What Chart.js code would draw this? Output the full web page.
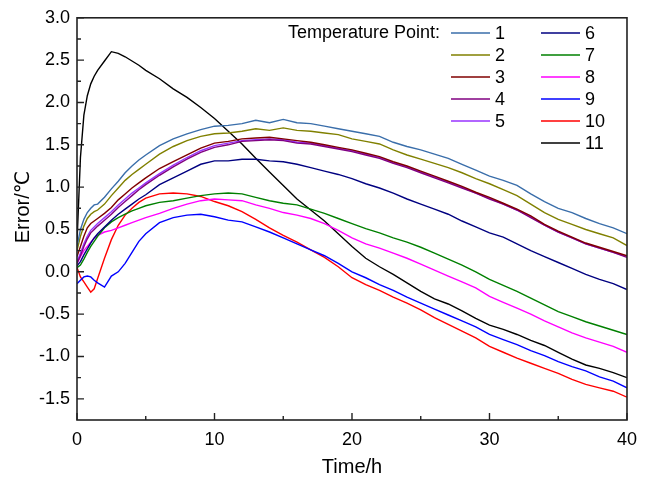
<!DOCTYPE html>
<html>
<head>
<meta charset="utf-8">
<script src="https://cdn.jsdelivr.net/npm/chart.js@4/dist/chart.umd.min.js"></script>
<style>
html,body{margin:0;padding:0;background:#fff;}
#c{display:block;}
</style>
</head>
<body>
<canvas id="c" width="646" height="480"></canvas>
<script>
// ---- data ----
const TIME = [0,0.25,0.5,0.75,1,1.25,1.5,2,2.5,3,3.5,4,4.5,5,
  6,7,8,9,10,11,12,13,14,15,16,17,18,19,20,21,22,23,24,25,26,27,28,29,30,31,32,33,34,35,36,37,38,39,40];

const P1 = [0.30,0.50,0.62,0.70,0.75,0.79,0.80,0.88,0.98,1.07,1.17,1.25,1.32,1.38,
  1.49,1.57,1.63,1.68,1.72,1.73,1.75,1.79,1.76,1.80,1.76,1.75,1.72,1.69,1.66,1.63,1.60,1.53,1.48,1.44,1.39,1.34,1.27,1.20,1.13,1.08,1.02,0.92,0.83,0.75,0.70,0.63,0.57,0.52,0.45];
const P2 = [0.25,0.42,0.54,0.63,0.68,0.71,0.73,0.80,0.90,0.99,1.08,1.15,1.21,1.27,
  1.39,1.48,1.55,1.60,1.63,1.64,1.66,1.69,1.67,1.70,1.67,1.66,1.64,1.62,1.57,1.54,1.51,1.44,1.38,1.33,1.28,1.23,1.17,1.10,1.04,0.97,0.90,0.80,0.70,0.62,0.56,0.50,0.45,0.40,0.31];
const P3 = [0.18,0.30,0.42,0.52,0.57,0.60,0.63,0.69,0.76,0.85,0.92,0.99,1.05,1.11,
  1.22,1.30,1.38,1.46,1.52,1.54,1.57,1.58,1.59,1.57,1.55,1.53,1.50,1.47,1.44,1.40,1.36,1.30,1.25,1.19,1.13,1.07,1.01,0.94,0.88,0.81,0.74,0.66,0.56,0.48,0.41,0.34,0.29,0.24,0.19];
const P4 = [0.10,0.19,0.30,0.39,0.46,0.50,0.54,0.61,0.68,0.76,0.83,0.90,0.97,1.03,
  1.14,1.24,1.33,1.41,1.47,1.50,1.54,1.55,1.56,1.55,1.52,1.51,1.48,1.45,1.42,1.38,1.34,1.28,1.23,1.17,1.11,1.05,0.99,0.93,0.86,0.80,0.73,0.64,0.55,0.47,0.40,0.33,0.28,0.23,0.17];
const P5 = [0.12,0.22,0.33,0.42,0.49,0.53,0.57,0.64,0.71,0.79,0.86,0.93,0.99,1.05,
  1.16,1.26,1.35,1.43,1.49,1.52,1.55,1.56,1.57,1.56,1.53,1.52,1.49,1.46,1.43,1.39,1.35,1.29,1.24,1.18,1.12,1.06,1.00,0.93,0.87,0.80,0.73,0.65,0.55,0.47,0.40,0.33,0.28,0.23,0.18];
const P6 = [0.07,0.12,0.20,0.27,0.34,0.40,0.45,0.53,0.61,0.68,0.74,0.80,0.86,0.91,
  1.03,1.11,1.19,1.27,1.31,1.31,1.33,1.33,1.31,1.30,1.27,1.23,1.19,1.15,1.10,1.04,0.99,0.93,0.86,0.80,0.74,0.68,0.60,0.53,0.46,0.41,0.33,0.25,0.18,0.11,0.04,-0.03,-0.09,-0.14,-0.21];
const P7 = [0.05,0.08,0.15,0.23,0.30,0.36,0.42,0.52,0.59,0.64,0.68,0.72,0.75,0.78,
  0.82,0.84,0.87,0.90,0.92,0.93,0.92,0.88,0.84,0.81,0.79,0.74,0.69,0.63,0.57,0.51,0.46,0.40,0.35,0.29,0.22,0.15,0.08,0.00,-0.09,-0.16,-0.23,-0.31,-0.39,-0.47,-0.53,-0.59,-0.64,-0.69,-0.74];
const P8 = [0.10,0.18,0.25,0.30,0.35,0.40,0.43,0.47,0.49,0.52,0.55,0.58,0.61,0.64,
  0.69,0.75,0.80,0.84,0.86,0.85,0.84,0.79,0.75,0.70,0.67,0.63,0.57,0.49,0.40,0.33,0.28,0.22,0.16,0.09,0.02,-0.05,-0.12,-0.19,-0.29,-0.36,-0.43,-0.50,-0.58,-0.65,-0.72,-0.78,-0.83,-0.88,-0.95];
const P9 = [-0.14,-0.10,-0.06,-0.05,-0.06,-0.10,-0.13,-0.18,-0.05,0.00,0.10,0.23,0.36,0.45,
  0.58,0.64,0.67,0.68,0.65,0.61,0.59,0.53,0.47,0.40,0.33,0.26,0.19,0.10,0.00,-0.07,-0.15,-0.22,-0.30,-0.37,-0.44,-0.51,-0.58,-0.65,-0.74,-0.80,-0.86,-0.93,-0.99,-1.06,-1.12,-1.17,-1.24,-1.29,-1.37];
const P10 = [0.05,-0.06,-0.12,-0.18,-0.24,-0.20,-0.08,0.16,0.38,0.55,0.67,0.75,0.82,0.87,
  0.92,0.93,0.92,0.89,0.83,0.78,0.71,0.62,0.52,0.43,0.35,0.26,0.17,0.06,-0.07,-0.15,-0.22,-0.30,-0.37,-0.45,-0.54,-0.62,-0.70,-0.78,-0.88,-0.95,-1.02,-1.08,-1.14,-1.20,-1.27,-1.33,-1.37,-1.41,-1.48];
const P11 = [0.35,1.35,1.85,2.08,2.22,2.31,2.38,2.49,2.60,2.58,2.54,2.49,2.44,2.38,
  2.28,2.16,2.06,1.94,1.81,1.66,1.51,1.34,1.18,1.02,0.86,0.73,0.60,0.45,0.30,0.16,0.06,-0.03,-0.13,-0.23,-0.32,-0.38,-0.46,-0.55,-0.63,-0.68,-0.74,-0.81,-0.87,-0.95,-1.03,-1.10,-1.14,-1.19,-1.25];

const SERIES_NAMES = ['1','2','3','4','5','6','7','8','9','10','11'];
const SERIES = [P1,P2,P3,P4,P5,P6,P7,P8,P9,P10,P11];
const COLORS = ['#3a6eaa','#808000','#800000','#800080','#9933ff','#000080','#008000','#ff00ff','#0000ff','#ff0000','#000000'];

const X_MAJOR = [0,10,20,30,40];
const X_MINOR = [5,15,25,35];
const Y_MAJOR = [-1.5,-1.0,-0.5,0.0,0.5,1.0,1.5,2.0,2.5,3.0];
const Y_MINOR = [-1.25,-0.75,-0.25,0.25,0.75,1.25,1.75,2.25,2.75];

const LEGEND_TITLE = 'Temperature Point:';
const X_TITLE = 'Time/h';
const Y_TITLE = 'Error/℃';

const FONT = "'Liberation Sans', Arial, 'DejaVu Sans', sans-serif";

const datasets = SERIES.map((s, k) => ({
  label: SERIES_NAMES[k],
  data: TIME.map((t, i) => ({x: t, y: s[i]})),
  borderColor: COLORS[k],
  backgroundColor: COLORS[k],
  borderWidth: 1.4,
  pointRadius: 0,
  showLine: true,
  tension: 0,
  fill: false
}));

const framePlugin = {
  id: 'frame',
  afterDraw(chart) {
    const {ctx, chartArea: a, scales} = chart;
    const xs = scales.x, ys = scales.y;
    ctx.save();
    ctx.strokeStyle = '#222';
    ctx.lineWidth = 1.6;
    ctx.strokeRect(a.left, a.top, a.right - a.left, a.bottom - a.top);
    ctx.lineWidth = 1.4;
    ctx.beginPath();
    X_MAJOR.forEach(v => { const p = xs.getPixelForValue(v); ctx.moveTo(p, a.bottom); ctx.lineTo(p, a.bottom - 7); });
    X_MINOR.forEach(v => { const p = xs.getPixelForValue(v); ctx.moveTo(p, a.bottom); ctx.lineTo(p, a.bottom - 4); });
    Y_MAJOR.forEach(v => { const p = ys.getPixelForValue(v); ctx.moveTo(a.left, p); ctx.lineTo(a.left + 7, p); });
    Y_MINOR.forEach(v => { const p = ys.getPixelForValue(v); ctx.moveTo(a.left, p); ctx.lineTo(a.left + 4, p); });
    ctx.stroke();

    // y-axis title
    ctx.fillStyle = '#000';
    ctx.font = '20px ' + FONT;
    ctx.textAlign = 'center';
    ctx.textBaseline = 'middle';
    ctx.translate(23, 207);
    ctx.rotate(-Math.PI / 2);
    ctx.fillText(Y_TITLE, 0, 0);
    ctx.restore();

    // legend
    ctx.save();
    ctx.font = '18px ' + FONT;
    ctx.fillStyle = '#000';
    ctx.textBaseline = 'middle';
    ctx.textAlign = 'right';
    ctx.fillText(LEGEND_TITLE, 440, 33);
    ctx.textAlign = 'left';
    chart.data.datasets.forEach((ds, k) => {
      const col = k < 5 ? 0 : 1;
      const row = k < 5 ? k : k - 5;
      const x0 = col === 0 ? 451 : 541;
      const y = 33 + row * 22;
      ctx.strokeStyle = ds.borderColor;
      ctx.lineWidth = 1.5;
      ctx.beginPath();
      ctx.moveTo(x0, y);
      ctx.lineTo(x0 + 39, y);
      ctx.stroke();
      ctx.fillText(ds.label, x0 + 44, y + 1);
    });
    ctx.restore();
  }
};

new Chart(document.getElementById('c'), {
  type: 'scatter',
  data: {datasets},
  options: {
    responsive: false,
    animation: false,
    devicePixelRatio: 1,
    layout: {padding: {left: 0, right: 18, top: 15, bottom: 0}},
    plugins: {legend: {display: false}, tooltip: {enabled: false}, title: {display: false}},
    scales: {
      x: {
        type: 'linear', min: 0, max: 40,
        afterBuildTicks: s => { s.ticks = X_MAJOR.map(v => ({value: v})); },
        afterFit: s => { s.height = 60; },
        grid: {display: false, drawTicks: false},
        border: {display: false},
        ticks: {color: '#000', font: {family: FONT, size: 18}, padding: 9, maxRotation: 0,
                callback: v => String(v)},
        title: {display: true, text: X_TITLE, color: '#000', font: {family: FONT, size: 20},
                padding: {top: 0, bottom: 1}}
      },
      y: {
        type: 'linear', min: -1.75, max: 3.0,
        afterBuildTicks: s => { s.ticks = Y_MAJOR.map(v => ({value: v})); },
        afterFit: s => { s.width = 77; },
        grid: {display: false, drawTicks: false},
        border: {display: false},
        ticks: {color: '#000', font: {family: FONT, size: 18}, padding: 7,
                callback: v => Number(v).toFixed(1)}
      }
    }
  },
  plugins: [framePlugin]
});
</script>
</body>
</html>
